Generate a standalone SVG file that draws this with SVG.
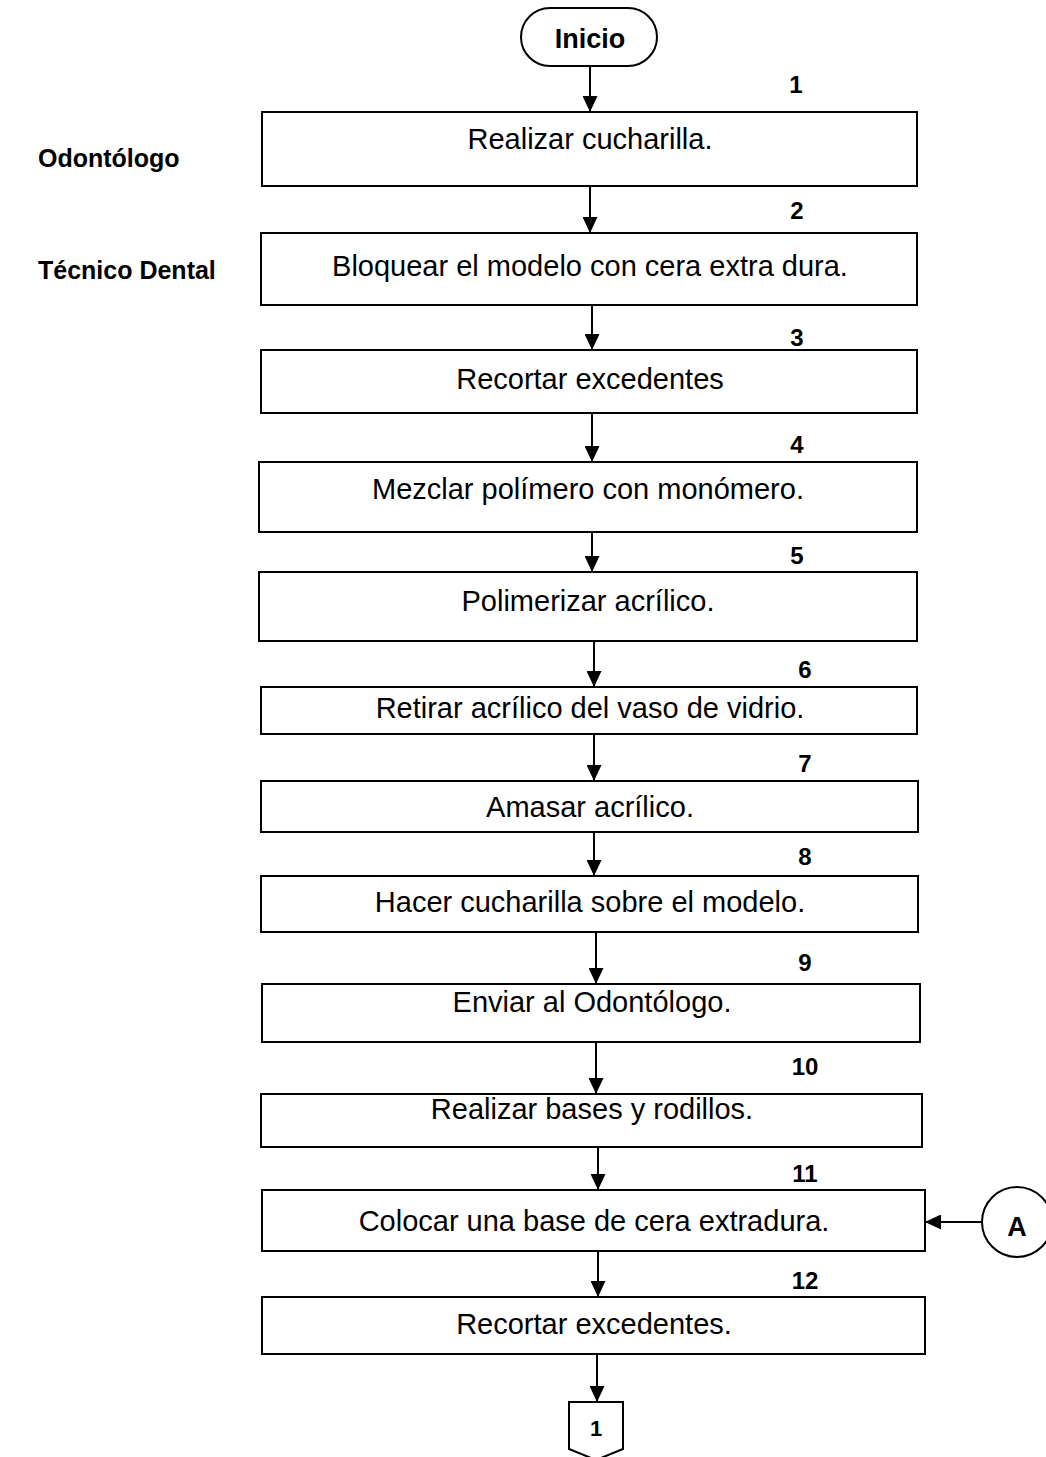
<svg xmlns="http://www.w3.org/2000/svg" width="1046" height="1457" viewBox="0 0 1046 1457">
<defs>
<marker id="ah" markerWidth="16" markerHeight="15" refX="16" refY="7.5" orient="auto" markerUnits="userSpaceOnUse">
<path d="M0,0 L16,7.5 L0,15 z" fill="#000"/>
</marker>
<style>
.box{fill:#fff;stroke:#000;stroke-width:2}
.t{font-family:"Liberation Sans",Arial,sans-serif;font-size:29px;text-anchor:middle;fill:#000}
.n{font-family:"Liberation Sans",Arial,sans-serif;font-size:24px;font-weight:bold;text-anchor:middle;fill:#000}
.l{font-family:"Liberation Sans",Arial,sans-serif;font-size:25px;font-weight:bold;fill:#000}
.c{stroke:#000;stroke-width:2;fill:none;marker-end:url(#ah)}
</style>
</defs>
<rect width="1046" height="1457" fill="#fff"/>
<text class="l" x="38" y="167">Odontólogo</text>
<text class="l" x="38" y="279">Técnico Dental</text>
<g id="inicio"><rect class="box" x="521" y="8" width="136" height="58" rx="29"/><text class="n" x="590" y="48" style="font-size:27px">Inicio</text></g>
<g id="n1"><rect class="box" x="262" y="112" width="655" height="74"/><text class="n" x="796" y="93">1</text><text class="t" x="590" y="149">Realizar cucharilla.</text></g>
<g id="n2"><rect class="box" x="261" y="233" width="656" height="72"/><text class="n" x="797" y="219">2</text><text class="t" x="590" y="276">Bloquear el modelo con cera extra dura.</text></g>
<g id="n3"><rect class="box" x="261" y="350" width="656" height="63"/><text class="n" x="797" y="346">3</text><text class="t" x="590" y="389">Recortar excedentes</text></g>
<g id="n4"><rect class="box" x="259" y="462" width="658" height="70"/><text class="n" x="797" y="453">4</text><text class="t" x="588" y="499">Mezclar polímero con monómero.</text></g>
<g id="n5"><rect class="box" x="259" y="572" width="658" height="69"/><text class="n" x="797" y="564">5</text><text class="t" x="588" y="611">Polimerizar acrílico.</text></g>
<g id="n6"><rect class="box" x="261" y="687" width="656" height="47"/><text class="n" x="805" y="678">6</text><text class="t" x="590" y="718">Retirar acrílico del vaso de vidrio.</text></g>
<g id="n7"><rect class="box" x="261" y="781" width="657" height="51"/><text class="n" x="805" y="772">7</text><text class="t" x="590" y="817">Amasar acrílico.</text></g>
<g id="n8"><rect class="box" x="261" y="876" width="657" height="56"/><text class="n" x="805" y="865">8</text><text class="t" x="590" y="912">Hacer cucharilla sobre el modelo.</text></g>
<g id="n9"><rect class="box" x="262" y="984" width="658" height="58"/><text class="n" x="805" y="971">9</text><text class="t" x="592" y="1012">Enviar al Odontólogo.</text></g>
<g id="n10"><rect class="box" x="261" y="1094" width="661" height="53"/><text class="n" x="805" y="1075">10</text><text class="t" x="592" y="1119">Realizar bases y rodillos.</text></g>
<g id="n11"><rect class="box" x="262" y="1190" width="663" height="61"/><text class="n" x="805" y="1182">11</text><text class="t" x="594" y="1231">Colocar una base de cera extradura.</text></g>
<g id="n12"><rect class="box" x="262" y="1297" width="663" height="57"/><text class="n" x="805" y="1289">12</text><text class="t" x="594" y="1334">Recortar excedentes.</text></g>
<g id="A"><circle class="box" cx="1017" cy="1222" r="35"/><text class="n" x="1017" y="1236" style="font-size:27px">A</text></g>
<g id="off1"><path class="box" d="M569,1402 H623 V1449 L596,1460 L569,1449 Z"/><text class="n" x="596" y="1436" style="font-size:22px">1</text></g>
<g id="connectors">
<line class="c" x1="590" y1="66" x2="590" y2="112"/>
<line class="c" x1="590" y1="186" x2="590" y2="233"/>
<line class="c" x1="592" y1="305" x2="592" y2="350"/>
<line class="c" x1="592" y1="413" x2="592" y2="462"/>
<line class="c" x1="592" y1="532" x2="592" y2="572"/>
<line class="c" x1="594" y1="641" x2="594" y2="687"/>
<line class="c" x1="594" y1="734" x2="594" y2="781"/>
<line class="c" x1="594" y1="832" x2="594" y2="876"/>
<line class="c" x1="596" y1="932" x2="596" y2="984"/>
<line class="c" x1="596" y1="1042" x2="596" y2="1094"/>
<line class="c" x1="598" y1="1147" x2="598" y2="1190"/>
<line class="c" x1="598" y1="1251" x2="598" y2="1297"/>
<line class="c" x1="597" y1="1354" x2="597" y2="1402"/>
<line class="c" x1="982" y1="1222" x2="925" y2="1222"/>
</g>
</svg>
